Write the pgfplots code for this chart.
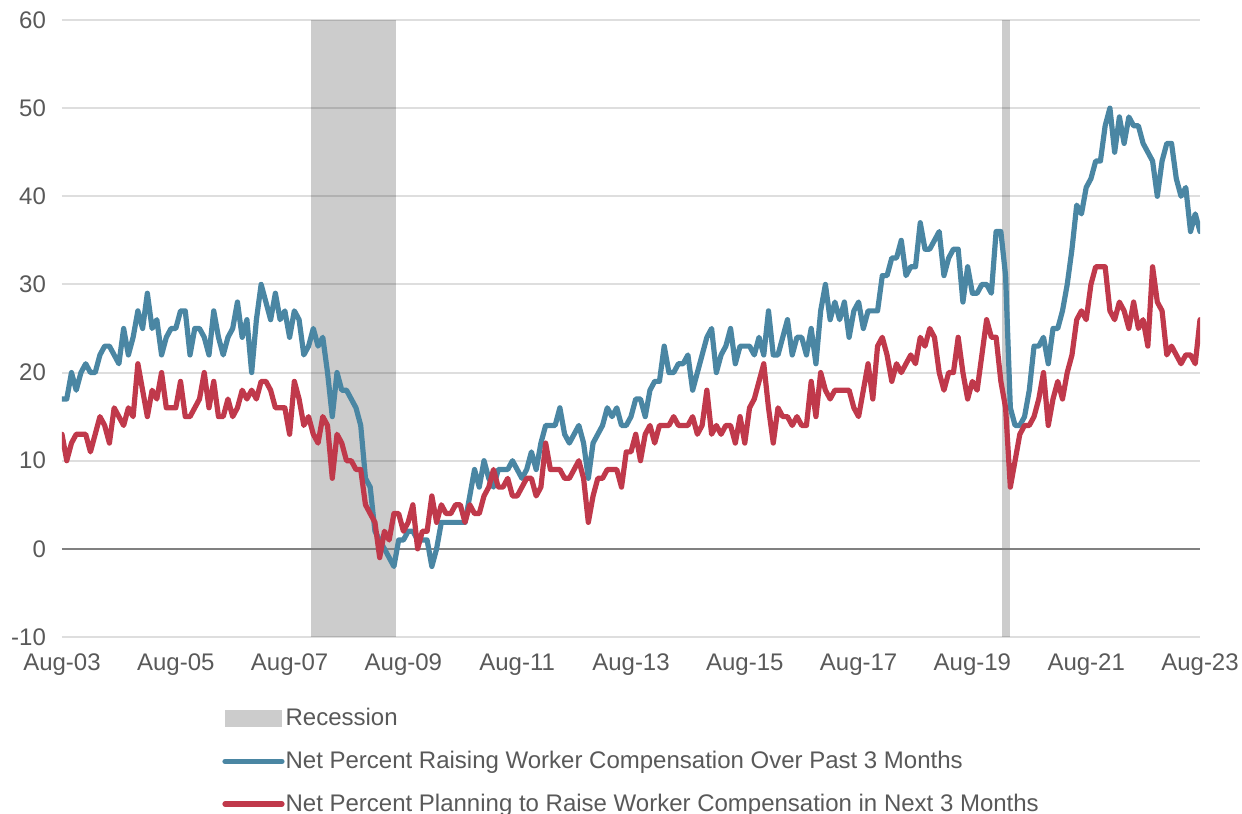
\documentclass[border=0pt]{standalone}
\usepackage{pgfplots}
\pgfplotsset{compat=1.18}
\usepackage{pgfplotstable}
\usepackage{fontspec}
\setmainfont{Liberation Sans}
\definecolor{cblue}{RGB}{74,134,163}
\definecolor{cred}{RGB}{192,57,75}
\definecolor{ctext}{RGB}{89,89,89}
\definecolor{cgrid}{RGB}{222,222,222}
\definecolor{czero}{RGB}{128,128,128}

\pgfplotstableread{
m b r
0 17 13
1 17 10
2 20 12
3 18 13
4 20 13
5 21 13
6 20 11
7 20 13
8 22 15
9 23 14
10 23 12
11 22 16
12 21 15
13 25 14
14 22 16
15 24 15
16 27 21
17 25 18
18 29 15
19 25 18
20 26 17
21 22 20
22 24 16
23 25 16
24 25 16
25 27 19
26 27 15
27 22 15
28 25 16
29 25 17
30 24 20
31 22 16
32 27 19
33 24 15
34 22 15
35 24 17
36 25 15
37 28 16
38 24 18
39 26 17
40 20 18
41 26 17
42 30 19
43 28 19
44 26 18
45 29 16
46 26 16
47 27 16
48 24 13
49 27 19
50 26 17
51 22 14
52 23 15
53 25 13
54 23 12
55 24 15
56 20 14
57 15 8
58 20 13
59 18 12
60 18 10
61 17 10
62 16 9
63 14 9
64 8 5
65 7 4
66 2 3
67 1 -1
68 0 2
69 -1 1
70 -2 4
71 1 4
72 1 2
73 2 3
74 2 5
75 1 0
76 1 2
77 1 2
78 -2 6
79 0 3
80 3 5
81 3 4
82 3 4
83 3 5
84 3 5
85 3 3
86 6 5
87 9 4
88 7 4
89 10 6
90 8 7
91 7 9
92 9 7
93 9 7
94 9 8
95 10 6
96 9 6
97 8 7
98 9 8
99 11 8
100 9 6
101 12 7
102 14 12
103 14 9
104 14 9
105 16 9
106 13 8
107 12 8
108 13 9
109 14 10
110 12 8
111 8 3
112 12 6
113 13 8
114 14 8
115 16 9
116 15 9
117 16 9
118 14 7
119 14 11
120 15 11
121 17 13
122 17 10
123 15 13
124 18 14
125 19 12
126 19 14
127 23 14
128 20 14
129 20 15
130 21 14
131 21 14
132 22 14
133 18 15
134 20 13
135 22 14
136 24 18
137 25 13
138 20 14
139 22 13
140 23 14
141 25 14
142 21 12
143 23 15
144 23 12
145 23 16
146 22 17
147 24 19
148 22 21
149 27 16
150 22 12
151 22 16
152 24 15
153 26 15
154 22 14
155 24 15
156 24 14
157 22 14
158 25 19
159 21 15
160 27 20
161 30 18
162 26 17
163 28 18
164 26 18
165 28 18
166 24 18
167 27 16
168 28 15
169 25 18
170 27 21
171 27 17
172 27 23
173 31 24
174 31 22
175 33 19
176 33 21
177 35 20
178 31 21
179 32 22
180 32 21
181 37 24
182 34 23
183 34 25
184 35 24
185 36 20
186 31 18
187 33 20
188 34 20
189 34 24
190 28 20
191 32 17
192 29 19
193 29 18
194 30 22
195 30 26
196 29 24
197 36 24
198 36 19
199 31 16
200 16 7
201 14 10
202 14 13
203 15 14
204 18 14
205 23 15
206 23 17
207 24 20
208 21 14
209 25 17
210 25 19
211 27 17
212 30 20
213 34 22
214 39 26
215 38 27
216 41 26
217 42 30
218 44 32
219 44 32
220 48 32
221 50 27
222 45 26
223 49 28
224 46 27
225 49 25
226 48 28
227 48 25
228 46 26
229 45 23
230 44 32
231 40 28
232 44 27
233 46 22
234 46 23
235 42 22
236 40 21
237 41 22
238 36 22
239 38 21
240 36 26
}\datatable

\begin{document}
\begin{tikzpicture}
\begin{axis}[
  scale only axis, width=569pt, height=308.5pt,
  xmin=0, xmax=240, ymin=-10, ymax=60,
  xtick={0,24,...,240},
  xticklabels={Aug-03,Aug-05,Aug-07,Aug-09,Aug-11,Aug-13,Aug-15,Aug-17,Aug-19,Aug-21,Aug-23},
  ytick={-10,0,10,20,30,40,50,60},
  yticklabels={-10,0,10,20,30,40,50,60},
  axis line style={draw=none},
  major tick length=0pt,
  ymajorgrids, grid style={cgrid, line width=1pt},
  tick label style={font=\fontsize{12}{14}\selectfont, text=ctext},
  xticklabel style={yshift=-4.8pt},
  yticklabel style={xshift=-4.5pt},
  legend style={at={(axis description cs:0.1406,-0.1137)}, anchor=north west,
    draw=none, fill=none, inner sep=0pt, row sep=10.1pt,
    font=\fontsize{12}{14}\selectfont, text=ctext,
    nodes={inner sep=0.5pt},
    /tikz/every odd column/.append style={column sep=0pt}},
  legend cell align=left,
  legend image code/.code={\draw[#1] (0pt,0pt) -- (28.5pt,0pt);},
]
\addplot[draw=none, fill=black, fill opacity=0.2,
  legend image code/.code={\fill[black, opacity=0.2] (0pt,-4.25pt) rectangle (28.5pt,4.25pt);}]
  coordinates {(52.5,-10) (52.5,60) (70.4,60) (70.4,-10)} -- cycle;
\addlegendentry{Recession}
\addplot[draw=none, fill=black, fill opacity=0.2, forget plot]
  coordinates {(198.2,-10) (198.2,60) (199.9,60) (199.9,-10)} -- cycle;
\addplot[czero, line width=1pt, forget plot] coordinates {(0,0) (240,0)};
\addplot[cblue, line width=2.6pt, line join=round, line cap=round] table[x=m, y=b] {\datatable};
\addlegendentry{Net Percent Raising Worker Compensation Over Past 3 Months}
\addplot[cred, line width=2.6pt, line join=round, line cap=round] table[x=m, y=r] {\datatable};
\addlegendentry{Net Percent Planning to Raise Worker Compensation in Next 3 Months}
\coordinate (SW) at (rel axis cs:0,0);
\coordinate (NE) at (rel axis cs:1,1);
\end{axis}
\pgfresetboundingbox
\path ([xshift=-31pt,yshift=-88.5pt]SW) rectangle ([xshift=21pt,yshift=10pt]NE);
\end{tikzpicture}
\end{document}
